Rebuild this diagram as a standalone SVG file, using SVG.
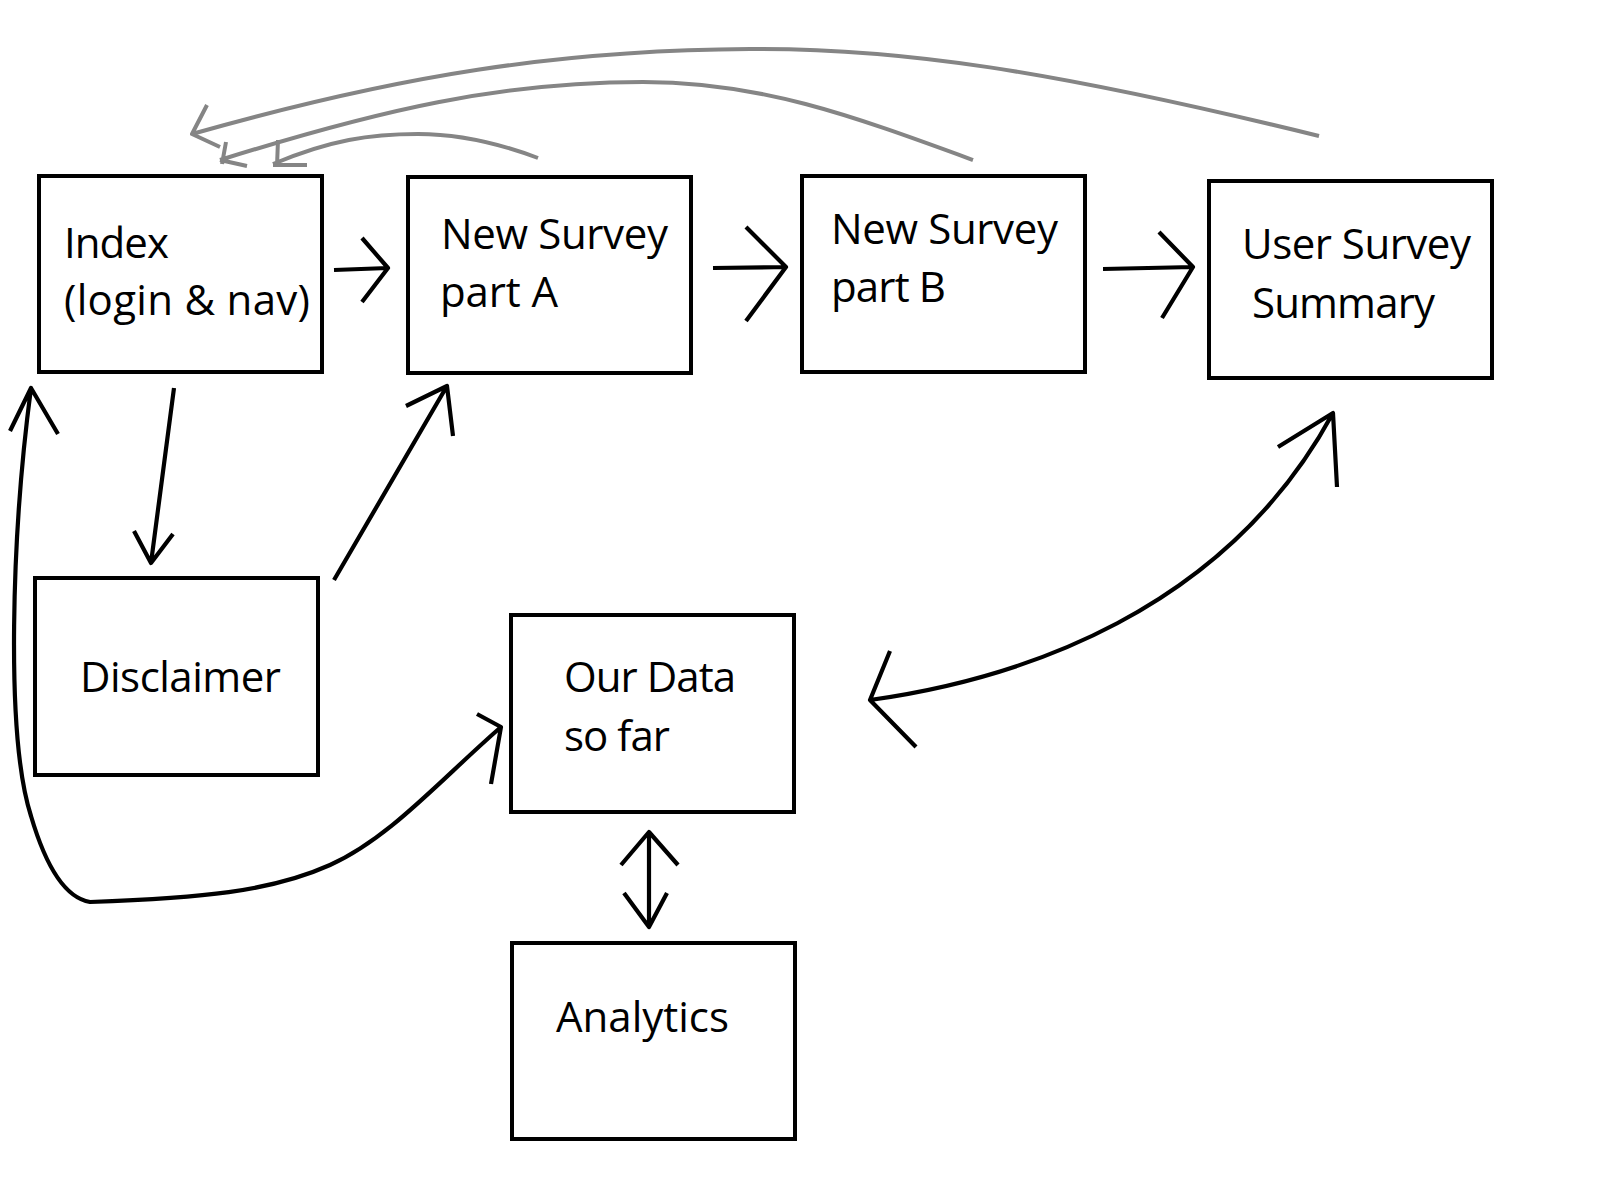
<svg xmlns="http://www.w3.org/2000/svg" width="1600" height="1200" viewBox="0 0 1600 1200">
<style>
.box{fill:#fff;stroke:#000;stroke-width:4}
.lbl{font-family:"Open Sans","Noto Sans","Liberation Sans",sans-serif;font-size:42px;fill:#000}
.c{fill:none;stroke:#000;stroke-width:4.2;stroke-linecap:butt;stroke-linejoin:round}
.g{fill:none;stroke:#858585;stroke-width:4;stroke-linecap:butt;stroke-linejoin:round}
</style>
<rect width="1600" height="1200" fill="#fff"/>
<g id="index"><rect class="box" x="39" y="176" width="283" height="196"/>
<text class="lbl" x="64" y="258" textLength="105">Index</text>
<text class="lbl" x="64" y="315" textLength="246">(login &amp; nav)</text></g>
<g id="surveyA"><rect class="box" x="408" y="177" width="283" height="196"/>
<text class="lbl" x="441" y="249" textLength="227">New Survey</text>
<text class="lbl" x="440" y="307" textLength="118">part A</text></g>
<g id="surveyB"><rect class="box" x="802" y="176" width="283" height="196"/>
<text class="lbl" x="831" y="244" textLength="227">New Survey</text>
<text class="lbl" x="831" y="302" textLength="115">part B</text></g>
<g id="summary"><rect class="box" x="1209" y="181" width="283" height="197"/>
<text class="lbl" x="1242" y="259" textLength="229">User Survey</text>
<text class="lbl" x="1252" y="318" textLength="183">Summary</text></g>
<g id="disclaimer"><rect class="box" x="35" y="578" width="283" height="197"/>
<text class="lbl" x="80" y="692" textLength="201">Disclaimer</text></g>
<g id="ourdata"><rect class="box" x="511" y="615" width="283" height="197"/>
<text class="lbl" x="564" y="692" textLength="172">Our Data</text>
<text class="lbl" x="564" y="751" textLength="106">so far</text></g>
<g id="analytics"><rect class="box" x="512" y="943" width="283" height="196"/>
<text class="lbl" x="556" y="1032" textLength="173">Analytics</text></g>
<g id="connectors">
<path class="c" d="M334,270 L388,268 M362,238 L388,268 L362,302"/>
<path class="c" d="M713,268 L786,267 M746,227 L786,267 L746,321"/>
<path class="c" d="M1103,269 L1193,267 M1159,232 L1193,267 L1162,318"/>
<path class="c" d="M174,388 L151,563 M134,531 L151,563 L173,534"/>
<path class="c" d="M334,580 L447,386 M406,406 L447,386 L453,436"/>
<path class="c" d="M870,700 C1020,679 1225,612 1333,413 M890,651 L870,700 L916,747 M1278,447 L1333,413 L1337,487"/>
<path class="c" d="M31,388 C12,531 5,735 31,816 C46,867 66,898 90,902 C200,898 270,892 330,865 C390,838 440,780 501,727 M477,714 L501,727 L491,784 M10,431 L31,388 L58,434"/>
<path class="c" d="M649,832 L649,927 M621,865 L649,832 L678,865 M624,893 L649,927 L667,893"/>
<path class="g" d="M1319,136 C1050,70 900,48 750,49 C560,50 400,75 192,134 M207,105 L192,134 L220,147"/>
<path class="g" d="M973,160 C850,115 760,82 643,82 C500,82 380,110 220,160 M226,142 L222,164 M220,160 L247,166"/>
<path class="g" d="M538,158 C490,140 450,134 418,134 C370,134 330,140 273,164 M278,140 L277,166 M273,165 L307,165"/>
</g>
</svg>
